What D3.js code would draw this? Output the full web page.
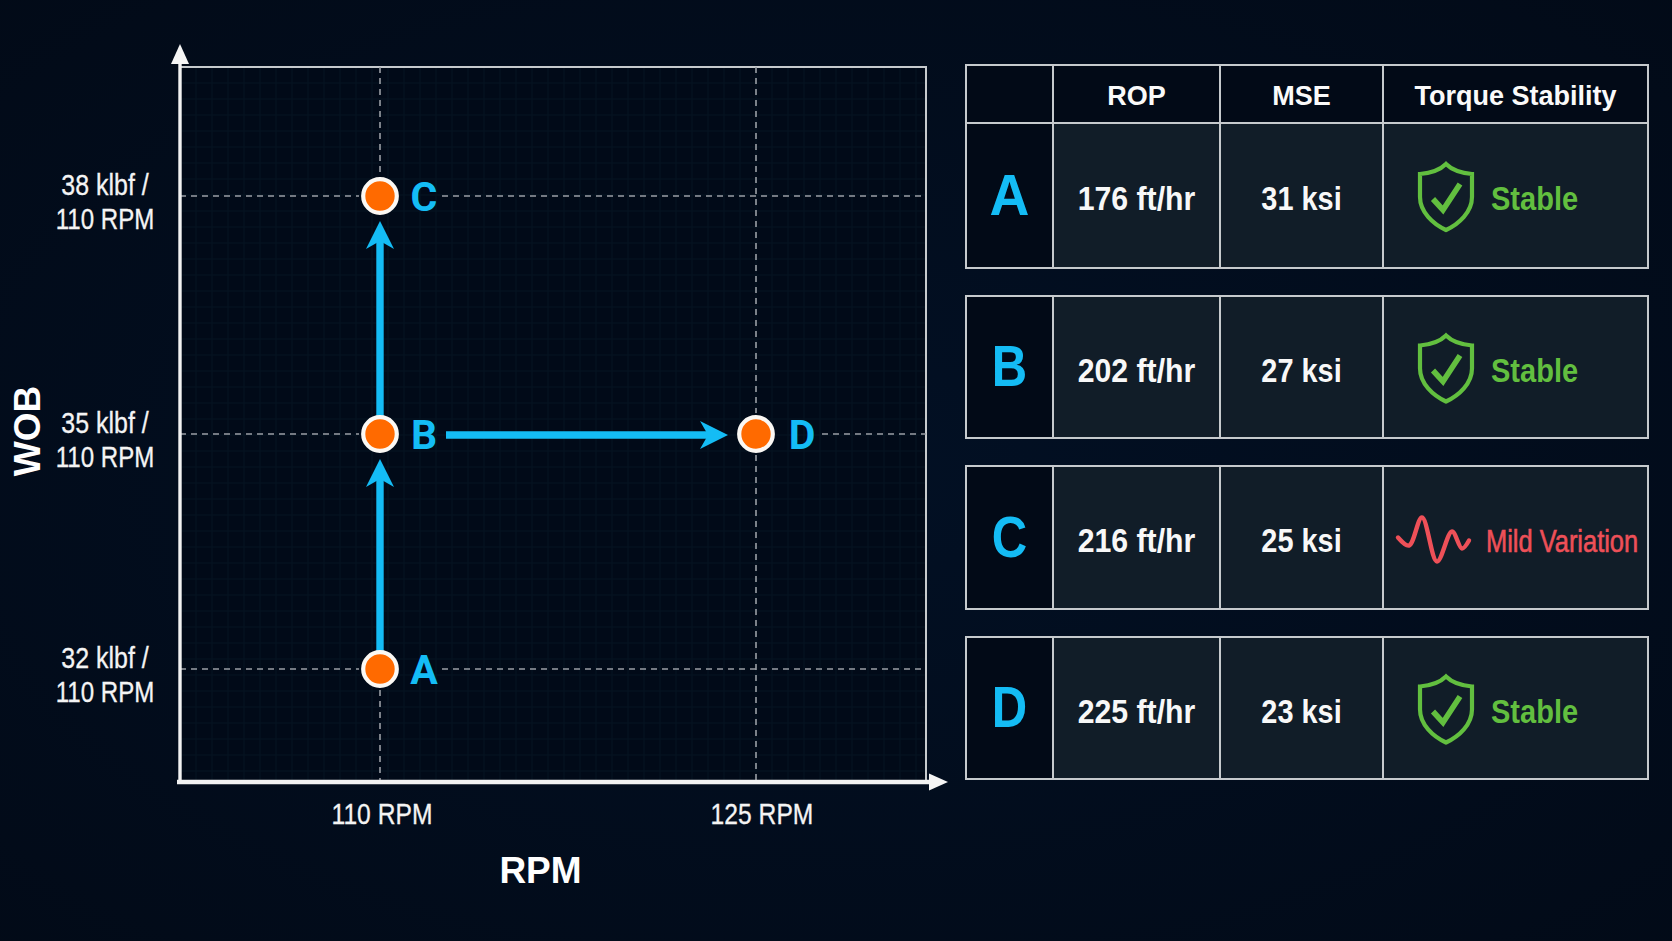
<!DOCTYPE html>
<html><head><meta charset="utf-8">
<script src="https://cdn.jsdelivr.net/npm/d3@7"></script>
<style>html,body{margin:0;padding:0;background:#020c1c;overflow:hidden}svg{display:block}</style>
</head><body><svg id="c" width="1672" height="941"></svg>
<script>
// ---- data ----
const pointNames = ["A","B","C","D"];
const pointRpm = [110,110,110,125];
const pointWob = [32,35,38,35];
const transitions = [["A","B"],["B","C"],["B","D"]];
const xTicks = [110,125];
const yTicks = [32,35,38];
const rop = ["176 ft/hr","202 ft/hr","216 ft/hr","225 ft/hr"];
const mse = ["31 ksi","27 ksi","25 ksi","23 ksi"];
const stability = ["Stable","Stable","Mild Variation","Stable"];
const headers = ["ROP","MSE","Torque Stability"];
// ---- layout ----
const plot = {l:180,t:67,r:926,b:782};
const colX = [966,1053,1220,1383,1648];
const headRow = [65,123];
const rows = [[123,268],[296,438],[466,609],[637,779]];
const SANS = "'Liberation Sans',sans-serif";
const CYAN="#14bcf5", LINE="#c6cacd", DASH="#9a9ea5", ORANGE="#ff6a00", GREEN="#62bf3f", RED="#ee5058", CELL="#111d28", DARK="#020a17";

// condense a text horizontally by factor k (the reference uses a narrow face)
function narrow(sel,k){
  sel.each(function(){
    const w=this.getComputedTextLength();
    this.setAttribute("textLength",w*k);
    this.setAttribute("lengthAdjust","spacingAndGlyphs");
  });
  return sel;
}

const svg = d3.select("#c");
const defs = svg.append("defs");
const bg = defs.append("radialGradient").attr("id","bg").attr("cx","50%").attr("cy","50%").attr("r","75%");
bg.append("stop").attr("offset","0%").attr("stop-color","#021024");
bg.append("stop").attr("offset","100%").attr("stop-color","#020a17");
svg.append("rect").attr("width",1672).attr("height",941).attr("fill","url(#bg)");

const x = d3.scaleLinear().domain(xTicks).range([380,756]);
const y = d3.scaleLinear().domain(yTicks).range([669,434,196]);
const g = svg.append("g");

// plot background + faint grid
g.append("rect").attr("x",plot.l).attr("y",plot.t).attr("width",plot.r-plot.l).attr("height",plot.b-plot.t).attr("fill","#010a18");
const gx = d3.range(plot.l+16,plot.r,16), gy = d3.range(plot.t+16,plot.b,16);
g.append("g").selectAll("line").data(gx).join("line").attr("x1",d=>d).attr("x2",d=>d).attr("y1",plot.t).attr("y2",plot.b).attr("stroke","#071423").attr("stroke-width",1);
g.append("g").selectAll("line").data(gy).join("line").attr("y1",d=>d).attr("y2",d=>d).attr("x1",plot.l).attr("x2",plot.r).attr("stroke","#071423").attr("stroke-width",1);

// frame
g.append("path").attr("d",`M${plot.l},${plot.t}H${plot.r}V${plot.b}`).attr("fill","none").attr("stroke",LINE).attr("stroke-width",2);

// dashed guides, with gaps around markers and labels
const dash = (x1,y1,x2,y2)=>g.append("line").attr("x1",x1).attr("y1",y1).attr("x2",x2).attr("y2",y2)
  .attr("stroke",DASH).attr("stroke-width",1.6).attr("stroke-dasharray","6,5");
dash(x(110),plot.t,x(110),y(38)-21);
dash(x(110),y(32)+21,x(110),plot.b);
dash(x(125),plot.t,x(125),y(35)-21);
dash(x(125),y(35)+21,x(125),plot.b);
dash(plot.l,y(38),x(110)-21,y(38)); dash(x(110)+62,y(38),plot.r,y(38));
dash(plot.l,y(35),x(110)-21,y(35)); dash(x(125)+66,y(35),plot.r,y(35));
dash(plot.l,y(32),x(110)-21,y(32)); dash(x(110)+62,y(32),plot.r,y(32));

// axes
g.append("line").attr("x1",177).attr("x2",932).attr("y1",plot.b).attr("y2",plot.b).attr("stroke","#f2f2f2").attr("stroke-width",4.4);
g.append("line").attr("x1",plot.l).attr("x2",plot.l).attr("y1",60).attr("y2",plot.b).attr("stroke","#f2f2f2").attr("stroke-width",3.4);
g.append("path").attr("d",`M948,${plot.b}L929,${plot.b-8.5}V${plot.b+8.5}Z`).attr("fill","#f5f5f5");
g.append("path").attr("d",`M${plot.l},44L${plot.l-9},64H${plot.l+9}Z`).attr("fill","#f5f5f5");

// tick labels
const tickStyle = s=>s.attr("text-anchor","middle").attr("font-family",SANS).attr("font-size",29).attr("fill","#f4f4f4").attr("stroke","#f4f4f4").attr("stroke-width",0.3);
narrow(g.append("g").selectAll("text").data(xTicks).join("text").attr("x",d=>x(d)+(d===110?2:6)).attr("y",824)
  .call(tickStyle).text(d=>`${d} RPM`),0.85);
const yt = g.append("g").selectAll("g").data(yTicks).join("g");
narrow(yt.append("text").attr("x",105).attr("y",d=>y(d)-1).call(tickStyle).text(d=>`${d} klbf /`),0.86);
narrow(yt.append("text").attr("x",105).attr("y",d=>y(d)+33).call(tickStyle).text("110 RPM"),0.83);

// axis titles
g.append("text").attr("x",540.5).attr("y",883).attr("text-anchor","middle").attr("font-family",SANS).attr("font-weight",700).attr("font-size",37).attr("fill","#fff").text("RPM");
g.append("text").attr("transform","translate(40,431) rotate(-90)").attr("text-anchor","middle").attr("font-family",SANS).attr("font-weight",700).attr("font-size",37).attr("fill","#fff").text("WOB");

// transition arrows
const P = Object.fromEntries(pointNames.map((n,i)=>[n,{x:x(pointRpm[i]),y:y(pointWob[i])}]));
const startGap = {AB:18,BC:18,BD:66}, endGap = {AB:25,BC:25,BD:28};
const ag = g.append("g");
transitions.forEach(([a,b])=>{
  const s=P[a], e=P[b], k=a+b, L=Math.hypot(e.x-s.x,e.y-s.y), ux=(e.x-s.x)/L, uy=(e.y-s.y)/L;
  const tip={x:e.x-ux*endGap[k], y:e.y-uy*endGap[k]};
  const nx=-uy, ny=ux, at=(back,side)=>`${tip.x-ux*back+nx*side},${tip.y-uy*back+ny*side}`;
  ag.append("line").attr("x1",s.x+ux*startGap[k]).attr("y1",s.y+uy*startGap[k]+(k==="BD"?1:0))
    .attr("x2",tip.x-ux*18).attr("y2",tip.y-uy*18+(k==="BD"?1:0)).attr("stroke",CYAN).attr("stroke-width",7.4);
  ag.append("path").attr("d",`M${at(0,0)}L${at(28,14)}L${at(20,0)}L${at(28,-14)}Z`).attr("transform",k==="BD"?"translate(0,1)":null).attr("fill",CYAN);
});

// markers and labels
const pts = pointNames.map((n,i)=>({n,px:x(pointRpm[i]),py:y(pointWob[i])}));
g.append("g").selectAll("circle").data(pts).join("circle").attr("cx",d=>d.px).attr("cy",d=>d.py).attr("r",16.8)
  .attr("fill",ORANGE).attr("stroke","#fbf8f4").attr("stroke-width",4.2);
g.append("g").selectAll("text").data(pts).join("text").attr("x",d=>d.px+(d.n==="D"?46:44)).attr("y",d=>d.py+15)
  .attr("text-anchor","middle").attr("font-family","Roboto,sans-serif").attr("font-weight",700).attr("font-size",41).attr("fill",CYAN).text(d=>d.n);

// ---- table ----
const t = svg.append("g");
const vLines=(y0,y1)=>colX.forEach(cx=>t.append("line").attr("x1",cx).attr("x2",cx).attr("y1",y0).attr("y2",y1).attr("stroke",LINE).attr("stroke-width",2));
const hLine=(yy)=>t.append("line").attr("x1",colX[0]-1).attr("x2",colX[4]+1).attr("y1",yy).attr("y2",yy).attr("stroke",LINE).attr("stroke-width",2);
t.append("rect").attr("x",colX[0]).attr("y",headRow[0]).attr("width",colX[4]-colX[0]).attr("height",headRow[1]-headRow[0]).attr("fill",DARK);
headers.forEach((h,i)=>narrow(t.append("text").attr("x",(colX[i+1]+colX[i+2])/2).attr("y",104.5).attr("text-anchor","middle")
  .attr("font-family",SANS).attr("font-weight",700).attr("font-size",27).attr("fill","#fafafa").text(h),1.0));

const shield = "M0,-33 C6,-27 15,-24 26,-23 L26,0 C26,15 13,27 0,33 C-13,27 -26,15 -26,0 L-26,-23 C-15,-24 -6,-27 0,-33 Z";
const waveIcon = [[0,-4],[11,4],[24,-24],[39,20],[54,-10],[64,7],[71,-1]];
const waveLine = d3.line().curve(d3.curveCatmullRom.alpha(0.5));

pointNames.forEach((n,i)=>{
  const [y0,y1]=rows[i], cy=(y0+y1)/2, base=cy+14.5;
  t.append("rect").attr("x",colX[0]).attr("y",y0).attr("width",colX[1]-colX[0]).attr("height",y1-y0).attr("fill",DARK);
  t.append("rect").attr("x",colX[1]).attr("y",y0).attr("width",colX[4]-colX[1]).attr("height",y1-y0).attr("fill",CELL);
  narrow(t.append("text").attr("x",(colX[0]+colX[1])/2).attr("y",cy+19).attr("text-anchor","middle").attr("font-family",SANS)
    .attr("font-weight",700).attr("font-size",57).attr("fill",CYAN).text(n),n==="A"?0.97:0.86);
  narrow(t.append("text").attr("x",(colX[1]+colX[2])/2).attr("y",base).attr("text-anchor","middle").attr("font-family",SANS)
    .attr("font-weight",700).attr("font-size",34).attr("fill","#f8f8f8").text(rop[i]),0.89);
  narrow(t.append("text").attr("x",(colX[2]+colX[3])/2).attr("y",base).attr("text-anchor","middle").attr("font-family",SANS)
    .attr("font-weight",700).attr("font-size",34).attr("fill","#f8f8f8").text(mse[i]),0.85);
  if(stability[i]==="Stable"){
    const ic=t.append("g").attr("transform",`translate(1446,${cy+1.5})`).attr("fill","none").attr("stroke",GREEN);
    ic.append("path").attr("d",shield).attr("stroke-width",4.2);
    ic.append("path").attr("d","M-13,2 L-3,13 L14,-13").attr("stroke-width",5.6);
    narrow(t.append("text").attr("x",1491).attr("y",base).attr("font-family",SANS).attr("font-weight",700).attr("font-size",33).attr("fill",GREEN).text(stability[i]),0.88);
  } else {
    t.append("path").attr("transform",`translate(1398,${cy+4})`).attr("d",waveLine(waveIcon)).attr("fill","none").attr("stroke",RED).attr("stroke-width",4.4).attr("stroke-linecap","round");
    narrow(t.append("text").attr("x",1486).attr("y",base).attr("font-family",SANS).attr("font-weight",400).attr("font-size",31).attr("fill",RED).attr("stroke",RED).attr("stroke-width",0.6).text(stability[i]),0.82);
  }
  vLines(y0,y1); hLine(y0); hLine(y1);
});
vLines(headRow[0],headRow[1]); hLine(headRow[0]);
</script></body></html>
